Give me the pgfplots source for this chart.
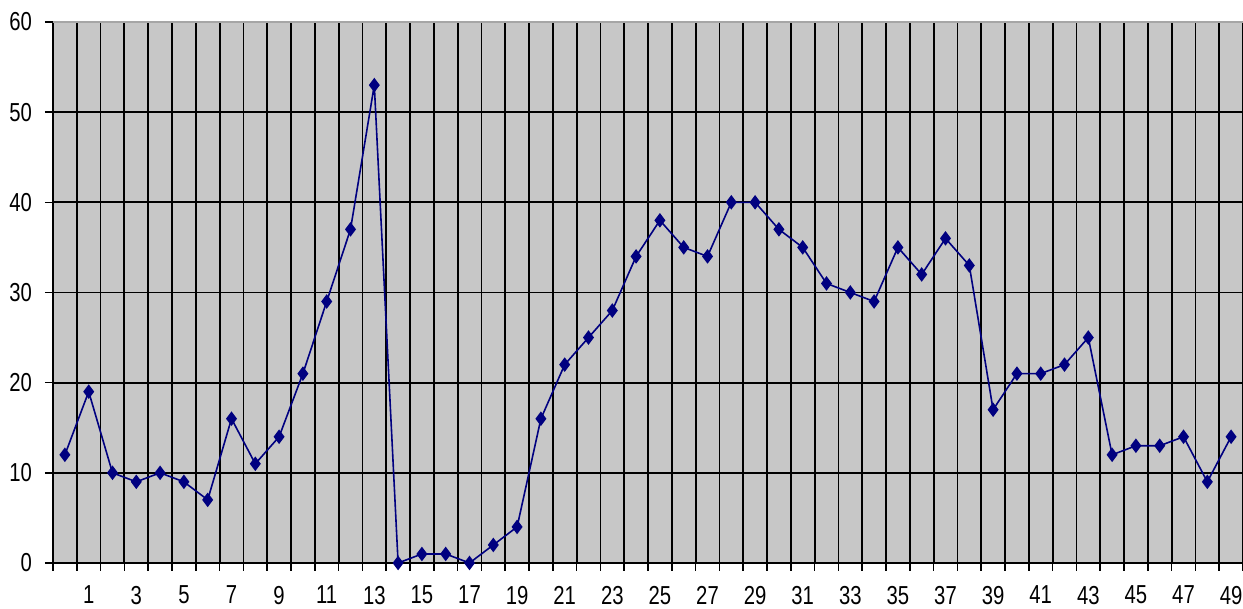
\documentclass[border=0pt]{standalone}
\usepackage{fontspec}
\setmainfont{Liberation Sans}
\newfontfamily\tickfont{Liberation Sans}[FakeStretch=0.78]
\usepackage{pgfplots}
\pgfplotsset{compat=1.18}
\definecolor{bg}{RGB}{199,199,199}
\definecolor{navy}{RGB}{0,0,128}
\begin{document}
\begin{tikzpicture}
\begin{axis}[
  scale only axis, width=595pt, height=270.5pt,
  xmin=-0.5, xmax=49.5, ymin=0, ymax=60,
  axis background/.style={fill=bg},
  axis x line*=bottom, axis y line*=left,
  axis line style={black, line width=0.9pt, -},
  xtick={-0.5,0.5,...,49.5}, xticklabels={},
  extra x ticks={1,3,...,49},
  extra x tick labels={1,3,5,7,9,11,13,15,17,19,21,23,25,27,29,31,33,35,37,39,41,43,45,47,49},
  extra x tick style={grid=none, major tick length=0pt, tick style={draw=none}},
  ytick={0,10,...,60},
  xmajorgrids, ymajorgrids,
  grid style={black, line width=0.9pt},
  tick align=outside, tick pos=left,
  major tick length=4pt,
  tick style={black, line width=0.8pt},
  tick label style={font=\tickfont\fontsize{13}{15}\selectfont},
  /pgf/number format/assume math mode=true,
  xticklabel style={yshift=-8pt},
  yticklabel style={xshift=-3pt},
  clip=false,
]
\draw[gray!70, line width=0.8pt] (axis cs:-0.5,60) -- (axis cs:49.5,60);
\addplot[navy, line width=0.8pt, mark=diamond*, mark size=3pt, mark options={fill=navy}] coordinates {
(0,12)(1,19)(2,10)(3,9)(4,10)(5,9)(6,7)(7,16)(8,11)(9,14)
(10,21)(11,29)(12,37)(13,53)(14,0)(15,1)(16,1)(17,0)(18,2)(19,4)
(20,16)(21,22)(22,25)(23,28)(24,34)(25,38)(26,35)(27,34)(28,40)(29,40)
(30,37)(31,35)(32,31)(33,30)(34,29)(35,35)(36,32)(37,36)(38,33)(39,17)
(40,21)(41,21)(42,22)(43,25)(44,12)(45,13)(46,13)(47,14)(48,9)(49,14)
};
\end{axis}
\pgfresetboundingbox
\path ([shift={(-26.5pt,-23pt)}]current axis.south west) rectangle ([shift={(0pt,11pt)}]current axis.north east);
\end{tikzpicture}
\end{document}
